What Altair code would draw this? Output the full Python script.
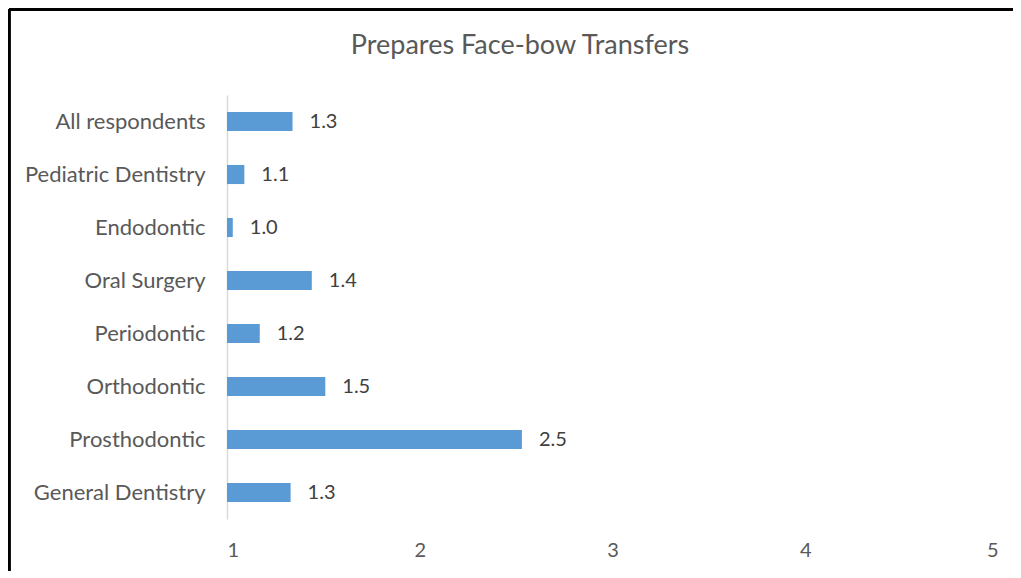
import altair as alt
import pandas as pd

categories = ["All respondents", "Pediatric Dentistry", "Endodontic", "Oral Surgery",
              "Periodontic", "Orthodontic", "Prosthodontic", "General Dentistry"]
values = [1.34, 1.09, 1.03, 1.44, 1.17, 1.51, 2.53, 1.33]
x_ticks = [1, 2, 3, 4, 5]
title_text = "Prepares Face-bow Transfers"

df = pd.DataFrame({"category": categories, "value": values})

W, H = 771, 424
FONT = "Lato"

y_enc = alt.Y("category:N", sort=categories, title=None,
              scale=alt.Scale(paddingInner=0.64, paddingOuter=0.32),
              axis=alt.Axis(domainColor="#d9d9d9", domainWidth=1.5, ticks=False,
                            labelFontSize=22, labelColor="#595959", labelFont=FONT,
                            labelPadding=22, labelLimit=400))
x_enc = alt.X("value:Q", title=None,
              scale=alt.Scale(domain=[1, 5], nice=False, zero=False),
              axis=alt.Axis(values=x_ticks, grid=False, domain=False, ticks=False,
                            labelFontSize=20, labelColor="#595959", labelFont=FONT,
                            labelPadding=21, format="d"))

bars = alt.Chart(df).mark_bar(color="#5B9BD5").encode(
    y=y_enc, x=x_enc, x2=alt.datum(1)
)
labels = alt.Chart(df).mark_text(align="left", baseline="middle", dx=17,
                                 fontSize=20, color="#404040", font=FONT).encode(
    y=alt.Y("category:N", sort=categories),
    x=alt.X("value:Q"),
    text=alt.Text("value:Q", format=".1f"),
)
frame_top = alt.Chart(df).mark_rule(color="#000000", strokeWidth=2.5).encode(
    x=alt.value(-218), x2=alt.value(804), y=alt.value(-85.5)
)
frame_left = alt.Chart(df).mark_rule(color="#000000", strokeWidth=2.5).encode(
    x=alt.value(-218), y=alt.value(-86), y2=alt.value(H + 60)
)

chart = alt.layer(bars, labels, frame_top, frame_left).properties(
    width=W, height=H,
    title=alt.TitleParams(title_text, fontSize=27, font=FONT, color="#595959",
                          fontWeight="normal", anchor="middle", frame="bounds",
                          offset=-52),
    autosize=alt.AutoSizeParams(type="none"),
    padding={"left": 219, "top": 87, "right": 15, "bottom": 52},
    background="white",
).configure_view(strokeWidth=0, stroke=None)

chart.save("out.html", embed_options={"renderer": "svg", "actions": False})
